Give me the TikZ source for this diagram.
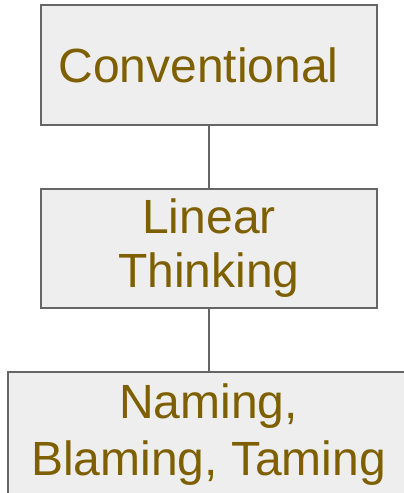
\documentclass[tikz,border=0pt]{standalone}
\usepackage{fontspec}
\setmainfont{Liberation Sans}
\definecolor{boxfill}{HTML}{EEEEEE}
\definecolor{boxline}{HTML}{666666}
\definecolor{textbrown}{HTML}{7F6000}
\begin{document}
\begin{tikzpicture}[x=1pt,y=-1pt,
  stagebox/.style={draw=boxline,fill=boxfill,line width=2pt,rectangle,
    inner sep=0pt,align=center,text=textbrown,
    font=\fontsize{48}{54}\selectfont},
  link/.style={draw=boxline,line width=2pt}]
  \useasboundingbox (0,0) rectangle (404,493);
  % three stacked stages, joined by plain vertical lines
  \node[stagebox,minimum width=336pt,minimum height=120pt] (conv) at (209,65) {Conventional\hspace*{21pt}};
  \node[stagebox,minimum width=336pt,minimum height=119pt] (lin) at (209,248.5) {Linear\\Thinking};
  % the last stage runs past the right and bottom edges of the page
  \node[stagebox,draw=none,minimum width=400pt,minimum height=124pt,
        font=\fontsize{48}{57}\selectfont] (nbt) at (208.5,435) {Naming,\\Blaming, Taming};
  \draw[boxline,line width=2pt] (nbt.south west) -- (nbt.north west) -- (nbt.north east);
  \draw[link] (conv.south -| 208.5,0) -- (lin.north -| 208.5,0);
  \draw[link] (lin.south -| 208.5,0) -- (nbt.north -| 208.5,0);
\end{tikzpicture}
\end{document}
